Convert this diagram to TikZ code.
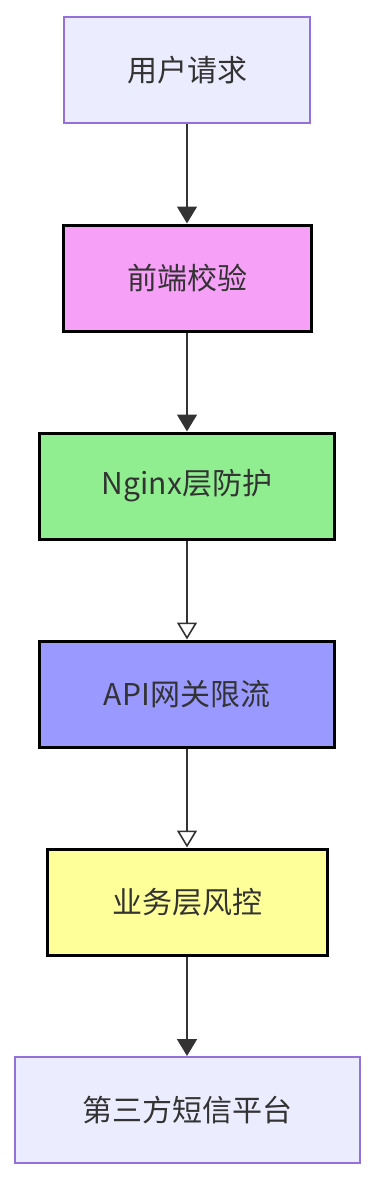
\documentclass[tikz,border=0pt]{standalone}
\usepackage{fontspec}
\newfontfamily\cjk{Noto Sans CJK SC}
\usetikzlibrary{positioning,arrows.meta}
\definecolor{lav}{RGB}{236,236,255}
\definecolor{lavline}{RGB}{147,112,219}
\definecolor{pinkfill}{RGB}{247,160,247}
\definecolor{greenfill}{RGB}{144,238,144}
\definecolor{bluefill}{RGB}{153,153,255}
\definecolor{yellowfill}{RGB}{255,255,153}
\definecolor{ink}{RGB}{51,51,51}
\begin{document}
\begin{tikzpicture}[x=1pt,y=1pt,
    stage/.style={draw=black,line width=3pt,font=\cjk\fontsize{30}{34}\selectfont,text=ink,
      minimum height=106pt,inner sep=0pt},
    endstage/.style={stage,draw=lavline,line width=2pt,fill=lav},
    flow/.style={draw=ink,line width=1.6pt,-{Triangle[length=17pt,width=20pt]}},
    flowopen/.style={draw=ink,line width=1.6pt,-{Triangle[open,length=17pt,width=20pt,line width=1.6pt]}}]
    \useasboundingbox (0,0) rectangle (376,-1180);
    \node[endstage,minimum width=246pt] (req) at (187,-70) {用户请求};
    \node[stage,fill=pinkfill,minimum width=248pt,below=99.5pt of req] (front) {前端校验};
    \node[stage,fill=greenfill,minimum width=295pt,below=99pt of front] (nginx) {Nginx层防护};
    \node[stage,fill=bluefill,minimum width=295pt,below=99pt of nginx] (gate) {API网关限流};
    \node[stage,fill=yellowfill,minimum width=280pt,below=99pt of gate] (biz) {业务层风控};
    \node[endstage,minimum width=345pt,below=99.5pt of biz] (sms) {第三方短信平台};
    \draw[flow] (req) -- (front);
    \draw[flow] (front) -- (nginx);
    \draw[flowopen] (nginx) -- (gate);
    \draw[flowopen] (gate) -- (biz);
    \draw[flow] (biz) -- (sms);
  \end{tikzpicture}
\end{document}
